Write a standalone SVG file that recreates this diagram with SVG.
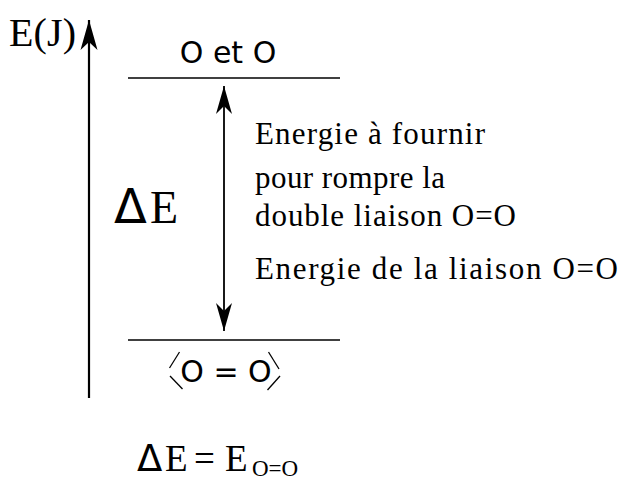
<svg xmlns="http://www.w3.org/2000/svg" width="624" height="481" viewBox="0 0 624 481">
<style>
.serif{font-family:"Liberation Serif","Times New Roman",serif;fill:#000}
.sans{font-family:"DejaVu Sans","Liberation Sans",sans-serif;fill:#000}
.lvl{stroke:#000;stroke-width:1.4;fill:none}
.ln{stroke:#000;fill:none}
</style>
<defs>
<marker id="ahBig" markerUnits="userSpaceOnUse" markerWidth="40" markerHeight="24" viewBox="-32 -12 34 24" refX="0" refY="0" orient="auto">
<path d="M0,0 L-30,-8.5 L-22,0 L-30,8.5 Z" fill="#000"/>
</marker>
<marker id="ah" markerUnits="userSpaceOnUse" markerWidth="34" markerHeight="20" viewBox="-30 -10 32 20" refX="0" refY="0" orient="auto-start-reverse">
<path d="M0,0 L-28,-8 L-20,0 L-28,8 Z" fill="#000"/>
</marker>
</defs>
<g id="axis">
<line class="ln" x1="89" y1="398" x2="89" y2="20" stroke-width="2.2" marker-end="url(#ahBig)"/>
<text id="axis-label" class="serif" x="9" y="46" font-size="40" textLength="67">E(J)</text>
</g>
<g id="level-top">
<line class="lvl" x1="128" y1="78" x2="340" y2="78"/>
<text class="sans" x="228" y="63" font-size="30" text-anchor="middle">O et O</text>
</g>
<g id="level-bottom">
<line class="lvl" x1="128" y1="340" x2="340" y2="340"/>
<text class="sans" x="226" y="382" font-size="30" text-anchor="middle">O = O</text>
<g class="ln" stroke-width="1.3">
<line x1="169.5" y1="368" x2="179.5" y2="352"/>
<line x1="170" y1="376" x2="182.5" y2="389"/>
<line x1="268.5" y1="352" x2="279" y2="369"/>
<line x1="280" y1="376" x2="267.5" y2="390"/>
</g>
</g>
<g id="connectors">
<line class="ln" x1="224" y1="86" x2="224" y2="331" stroke-width="1.8" marker-start="url(#ah)" marker-end="url(#ah)"/>
</g>
<g id="delta-label">
<text x="114" y="223" font-size="46"><tspan class="sans" font-size="48">Δ</tspan><tspan class="serif" x="150">E</tspan></text>
</g>
<g id="description">
<text class="serif" font-size="31">
<tspan x="255" y="144" textLength="230">Energie à fournir</tspan>
<tspan x="255" y="188" textLength="190">pour rompre la</tspan>
<tspan x="255" y="226" textLength="261">double liaison O=O</tspan>
</text>
<text class="serif" font-size="31" x="255" y="279" textLength="363">Energie de la liaison O=O</text>
</g>
<g id="formula">
<text x="137" y="471" font-size="37"><tspan class="sans">Δ</tspan><tspan class="serif" x="165">E</tspan><tspan class="serif" x="194">=</tspan><tspan class="serif" x="225">E</tspan></text>
<text class="serif" x="252" y="476" font-size="23">O=O</text>
</g>
</svg>
